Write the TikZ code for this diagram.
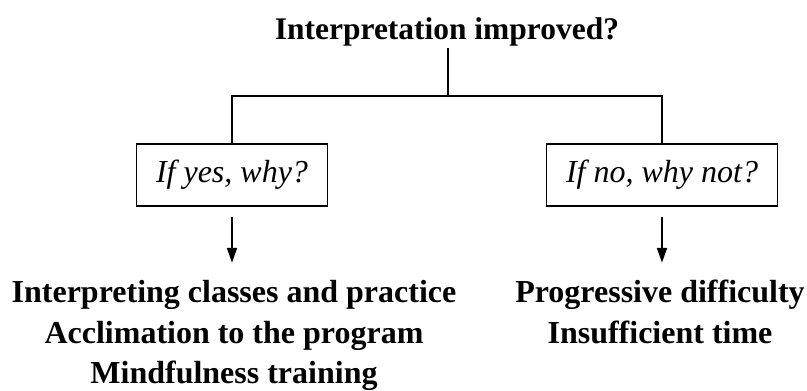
\documentclass[tikz,border=0pt]{standalone}
\usepackage{fontspec}
\setmainfont{Liberation Serif}
\usetikzlibrary{arrows.meta}

\begin{document}
\begin{tikzpicture}[x=0.75pt, y=-0.75pt,
  question/.style={font=\fontsize{23.6}{26}\selectfont\bfseries, inner sep=1pt},
  reason/.style={draw, line width=1.1pt, font=\fontsize{24}{26}\selectfont\itshape,
    minimum width=143pt, minimum height=46.5pt, inner sep=2pt},
  answers/.style={font=\fontsize{24}{30.5}\selectfont\bfseries, align=center,
    anchor=north, inner sep=0pt},
  branch/.style={line width=1.1pt},
  pointer/.style={line width=1.1pt, -{Triangle[length=11pt, width=7.5pt]},
    shorten <=7.5pt, shorten >=13pt}]
\useasboundingbox (0,0) rectangle (807,391);
\node[question, anchor=base] (title) at (447,40) {Interpretation improved?};
\coordinate (split) at (448,96);
\node[reason] (yes) at (232,175) {If yes, why?};
\node[reason, minimum width=173pt] (no) at (662,175) {If no, why not?};
\node[answers] (pro) at (234,280) {Interpreting classes and practice\\Acclimation to the program\\Mindfulness training};
\node[answers] (con) at (660,280) {Progressive difficulty\\Insufficient time};
% tree lines
\draw[branch] (title.south -| split) -- (split);
\draw[branch] (yes.north) |- (split) -| (no.north);
\draw[pointer] (yes.south) -- (yes.south |- pro.north);
\draw[pointer] (no.south) -- (no.south |- con.north);
\end{tikzpicture}
\end{document}
